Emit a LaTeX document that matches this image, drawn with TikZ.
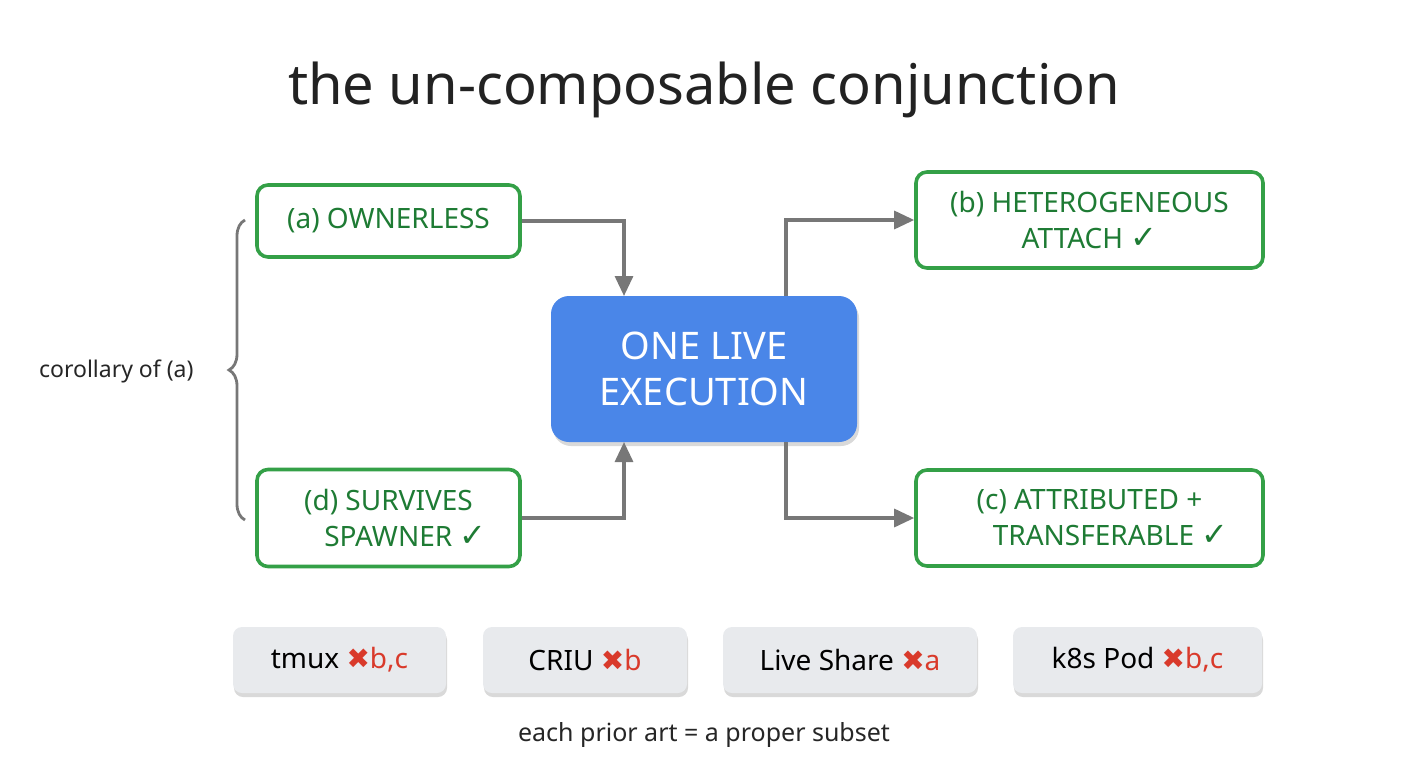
\documentclass[tikz,border=0pt]{standalone}
\usepackage{fontspec}
\setmainfont{Noto Sans}
\newfontfamily\sym{DejaVu Sans}
\usetikzlibrary{shadows,decorations.pathreplacing,arrows.meta}
\definecolor{gr}{HTML}{1E7B34}
\definecolor{grb}{HTML}{34A047}
\definecolor{bl}{HTML}{4A86E8}
\definecolor{rd}{HTML}{D93A2B}
\definecolor{ln}{HTML}{777777}
\definecolor{gy}{HTML}{E8EAED}
\begin{document}
\begin{tikzpicture}[x=1pt,y=-1pt,
  prop/.style={draw=grb,line width=3.6pt,rounded corners=11pt,fill=white,text=gr,font=\fontsize{28}{36}\selectfont,align=center},
  core/.style={fill=bl,rounded corners=18pt,text=white,font=\fontsize{38}{46}\selectfont,align=center,drop shadow={opacity=0.3,shadow xshift=2pt,shadow yshift=-4pt}},
  art/.style={fill=gy,rounded corners=9pt,font=\fontsize{28}{32}\selectfont,drop shadow={opacity=0.3,shadow xshift=1pt,shadow yshift=-4pt}},
  conn/.style={draw=ln,line width=3.2pt,-{Triangle[length=20pt,width=18pt]}},
  ck/.style={}]
\useasboundingbox (0,0) rectangle (1408,768);
\node (title) at (704,90) {\fontsize{56}{60}\selectfont\color[HTML]{222222}the un-composable conjunction};
\node[prop,minimum width=263pt,minimum height=72pt] (a) at (388.5,221) {(a) OWNERLESS};
\node[prop,minimum width=263pt,minimum height=97pt] (d) at (388.5,518) {(d) SURVIVES\\\hspace*{1.2em}SPAWNER {\sym\fontsize{32}{36}\selectfont\color{gr}✓}};
\node[prop,minimum width=347pt,minimum height=96pt] (b) at (1089.5,220) {(b) HETEROGENEOUS\\ATTACH {\sym\fontsize{32}{36}\selectfont\color{gr}✓}};
\node[prop,minimum width=347pt,minimum height=96pt] (c) at (1089.5,518) {(c) ATTRIBUTED +\\\hspace*{1.5em}TRANSFERABLE {\sym\fontsize{32}{36}\selectfont\color{gr}✓}};
\node[core,minimum width=306pt,minimum height=146pt] (e) at (704,369) {ONE LIVE\\EXECUTION};
\coordinate (ea) at (624,296); \coordinate (ed) at (624,442);
\coordinate (eb) at (786,296); \coordinate (ec) at (786,442);
\draw[conn] (a.east) -| (ea);
\draw[conn] (d.east) -| (ed);
\draw[conn] (eb) |- (b.west);
\draw[conn] (ec) |- (c.west);
\coordinate (br1) at (245,220); \coordinate (br2) at (245,520);
\draw[ln,line width=2.8pt,decorate,decoration={brace,amplitude=16pt,aspect=0.5}] (br2) -- (br1);
\node[anchor=east,font=\fontsize{23}{28}\selectfont,text=black!85] (cor) at (197,371) {corollary of (a)};
\node[art,minimum width=213pt,minimum height=66pt] (t1) at (339.5,660) {tmux {\sym\color{rd}✖}{\color{rd}b,c}};
\node[art,minimum width=204pt,minimum height=66pt] (t2) at (585,660) {CRIU {\sym\color{rd}✖}{\color{rd}b}};
\node[art,minimum width=254pt,minimum height=66pt] (t3) at (850,660) {Live Share {\sym\color{rd}✖}{\color{rd}a}};
\node[art,minimum width=249pt,minimum height=66pt] (t4) at (1137.5,660) {k8s Pod {\sym\color{rd}✖}{\color{rd}b,c}};
\node[font=\fontsize{25}{30}\selectfont,text=black!85] (note) at (704,735) {each prior art = a proper subset};
\end{tikzpicture}
\end{document}
